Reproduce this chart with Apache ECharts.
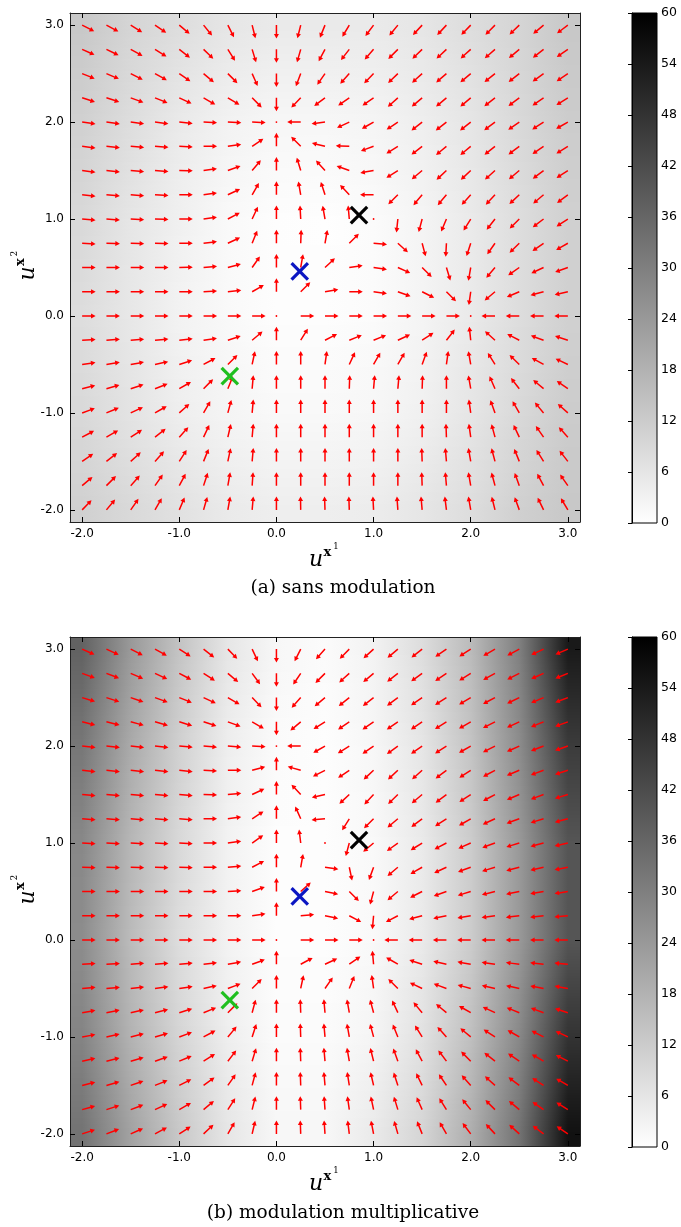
<!DOCTYPE html>
<html><head><meta charset="utf-8">
<script src="https://cdn.jsdelivr.net/npm/echarts@6/dist/echarts.min.js"></script>
<style>html,body{margin:0;padding:0;background:#fff}#c{width:681px;height:1227px}</style>
</head><body><div id="c"></div>
<script>
// ---------------- data ----------------
const gridXs = [-2,-1.75,-1.5,-1.25,-1,-0.75,-0.5,-0.25,0,0.25,0.5,0.75,1,1.25,1.5,1.75,2,2.25,2.5,2.75,3];
const gridYs = [3,2.75,2.5,2.25,2,1.75,1.5,1.25,1,0.75,0.5,0.25,0,-0.25,-0.5,-0.75,-1,-1.25,-1.5,-1.75,-2];
// arrow directions in degrees (0 = +x, 90 = +y); null = zero vector
const anglesA = [
 [-27,-28,-32,-34,-40,-51,-63,-76,-90,-104,-112,-121,-127,-129,-133,-133,-134,-135,-136,-140,-143],
 [-24,-26,-29,-32,-38,-44,-58,-73,-90,-106,-118,-128,-131,-135,-136,-137,-138,-139,-140,-142,-145],
 [-22,-23,-27,-29,-35,-40,-45,-66,-90,-111,-125,-132,-134,-136,-138,-139,-140,-141,-142,-144,-146],
 [-18,-18,-20,-22,-25,-30,-31,-45,-90,-134,-143,-145,-145,-138,-140,-140,-140,-142,-143,-145,-148],
 [-8,-8,-7,-7,-6,-3,-3,-2,null,180,-173,-155,-150,-146,-142,-142,-142,-143,-145,-147,-150],
 [-7,-6,-5,-4,-3,0,8,34,90,135,166,178,-160,-148,-142,-140,-140,-141,-143,-145,-148],
 [-7,-6,-5,-4,-1,8,20,50,90,107,132,160,-170,-148,-140,-137,-137,-138,-140,-143,-147],
 [-6,-5,-4,-3,0,8,25,60,90,100,108,133,180,-135,-130,-130,-132,-133,-137,-140,-143],
 [-5,-4,-3,-2,0,8,28,65,90,93,100,95,null,-96,-105,-113,-122,-128,-135,-143,-147],
 [-3,-2,-2,-1,0,7,25,68,90,88,80,45,-5,-42,-75,-93,-108,-125,-136,-145,-150],
 [0,0,0,0,1,5,15,55,90,80,43,8,-8,-24,-45,-73,-100,-130,-145,-155,-160],
 [0,0,0,0,0,3,6,30,90,45,10,0,-8,-20,-27,-45,-98,-140,-157,-165,-167],
 [0,0,0,0,0,0,0,0,null,0,0,0,0,0,0,0,null,180,180,180,180],
 [3,4,4,5,6,8,18,40,90,58,27,22,22,25,33,52,96,138,153,160,162],
 [8,9,10,12,18,28,45,78,90,90,82,65,60,60,70,82,100,122,136,151,155],
 [14,16,18,21,30,45,68,85,90,90,90,88,85,85,88,90,100,114,128,140,145],
 [20,23,25,30,42,60,75,85,90,90,90,90,90,90,90,90,98,110,120,130,138],
 [28,30,33,38,48,65,77,85,90,90,90,90,90,90,90,92,98,105,115,125,132],
 [35,38,42,48,57,68,78,85,90,90,90,90,90,90,92,95,100,105,112,122,128],
 [40,45,48,55,62,72,80,86,90,90,90,90,90,90,92,95,100,105,110,118,125],
 [46,50,55,60,67,74,80,85,90,91,92,92,93,94,95,97,100,104,110,116,121]
];
const anglesB = [
 [-24,-25,-27,-29,-33,-38,-46,-65,-90,-117,-132,-135,-138,-140,-142,-145,-147,-150,-152,-155,-157],
 [-20,-21,-23,-25,-28,-33,-40,-54,-90,-124,-135,-138,-140,-142,-144,-146,-148,-151,-153,-156,-158],
 [-17,-18,-19,-20,-22,-25,-30,-46,-90,-132,-140,-141,-142,-143,-145,-147,-149,-152,-154,-157,-159],
 [-14,-14,-15,-16,-17,-18,-20,-30,-90,-140,-148,-146,-145,-145,-146,-148,-150,-153,-155,-158,-160],
 [-6,-6,-6,-6,-5,-5,-5,-3,null,180,-150,-148,-145,-144,-145,-147,-150,-153,-156,-159,-161],
 [-6,-6,-6,-6,-6,-3,0,15,90,164,-153,-146,-137,-137,-138,-143,-147,-152,-157,-160,-162],
 [-5,-5,-5,-5,-5,-2,5,25,90,133,-167,-137,-133,-136,-140,-143,-147,-152,-157,-160,-163],
 [-4,-4,-4,-4,-4,0,8,33,90,114,-175,-122,-135,-140,-143,-147,-150,-155,-160,-163,-165],
 [-3,-3,-3,-3,-3,0,8,35,90,97,null,-105,-140,-144,-148,-152,-156,-160,-163,-165,-167],
 [-2,-2,-2,-2,-2,0,5,28,90,80,-8,-78,-110,-140,-150,-155,-160,-163,-165,-167,-169],
 [0,0,0,0,0,0,3,20,90,42,-12,-45,-105,-140,-153,-160,-163,-166,-168,-170,-171],
 [0,0,0,0,0,0,0,8,90,5,-12,-28,-95,-152,-165,-168,-170,-172,-173,-174,-175],
 [0,0,0,0,0,0,0,0,null,0,0,0,null,180,180,180,180,180,180,180,180],
 [3,3,4,4,5,6,10,20,90,28,25,35,95,150,162,167,170,172,173,174,175],
 [5,5,6,7,8,12,20,45,90,78,55,68,98,135,155,160,165,167,168,169,170],
 [10,11,12,14,17,22,45,75,90,92,95,100,105,115,130,140,150,155,158,160,162],
 [10,12,14,16,20,28,50,72,90,92,95,100,105,112,122,132,140,147,150,153,155],
 [12,14,16,19,23,32,52,73,90,92,95,100,104,110,118,127,135,142,146,150,153],
 [14,16,19,22,27,36,55,75,90,92,95,99,103,108,116,124,132,138,143,147,150],
 [16,18,21,25,30,40,57,76,90,92,94,98,102,107,114,122,129,135,140,145,148],
 [18,21,24,28,33,43,60,77,90,92,94,97,101,106,112,120,127,133,138,143,146]
];
// background field values (colour scale 0..60) at coarse nodes
const bgXs = [-2,-1.5,-1,-0.5,0,0.5,1,1.5,2,2.5,3];
const bgYs = [3,2,1,0,-1,-2];
const bgA = [
 [13,10,8,6,5,5,5,6,8,10,13],
 [11,8,5,3,2,2,2.5,4,6,9,12],
 [9,6,3.5,1.5,0.5,0.3,1,2.5,5,8,11],
 [8,5.5,3,1.5,0.5,0.5,1,2.5,5,8,11],
 [9,6.5,4,2.5,1.5,1.5,2,3.5,6,9,12],
 [11,9,7,5,4,4,4.5,6,8,11,13]
];
const bgB = [
 [37,24,14,6,2,1,3,8,16,30,54],
 [32,20,11,4,1,0.5,2,6,14,27,46],
 [28,17,9,3,0.5,0.5,1.5,5,12,24,40],
 [27,16,8,3,0.5,0.5,1.5,5,12,24,40],
 [29,18,10,4,1,1,2.5,7,15,28,48],
 [33,22,13,6,2,2,5,10,19,33,56]
];
const markersA = [[0.24,0.46],[0.85,1.04],[-0.48,-0.62]];
const markersB = [[0.24,0.45],[0.85,1.03],[-0.48,-0.62]];
const axisTickValues = [-2,-1,0,1,2,3];
const cbRange = [0,60];
const cbInterval = 6;

// ---------------- styles / layout ----------------
const MARKER_COLORS = ['#0b16c2','#000000','#1fbf1f'];
const XMIN=-2.125, XMAX=3.125, YMIN=-2.125, YMAX=3.125;
const SANS='DejaVu Sans', SERIF='DejaVu Serif';

function gray(v){const g=Math.round(255*(1-Math.max(0,Math.min(60,v))/60));return 'rgb('+g+','+g+','+g+')';}

function arrowData(angles){
  const d=[];
  angles.forEach((row,j)=>row.forEach((a,i)=>{d.push([gridXs[i],gridYs[j],a===null?0:a,a===null?0:1]);}));
  return d;
}
function bgData(){
  const d=[];
  for(let j=0;j<bgYs.length-1;j++)for(let i=0;i<bgXs.length-1;i++)d.push([bgXs[i],bgYs[j],i,j]);
  return d;
}
function renderArrow(params,api){
  const p=api.coord([api.value(0),api.value(1)]);
  const a=api.value(2), on=api.value(3);
  if(!on) return {type:'circle',shape:{cx:p[0],cy:p[1],r:0.9},style:{fill:'#ff0000'}};
  const r=a*Math.PI/180, ux=Math.cos(r), uy=-Math.sin(r), nx=-uy, ny=ux;
  const L=13.5, hl=4.6, hw=2.5, w=0.75;
  const tx=p[0]+ux*L, ty=p[1]+uy*L, bx=tx-ux*hl, by=ty-uy*hl;
  return {type:'polygon',shape:{points:[
    [p[0]+nx*w,p[1]+ny*w],[bx+nx*w,by+ny*w],[bx+nx*hw,by+ny*hw],[tx,ty],
    [bx-nx*hw,by-ny*hw],[bx-nx*w,by-ny*w],[p[0]-nx*w,p[1]-ny*w]]},
    style:{fill:'#ff0000'}};
}
function makeBgRender(vals){
  return function(params,api){
    const i=api.value(2), j=api.value(3);
    const nx=bgXs.length, ny=bgYs.length;
    const xa=i===0?XMIN:bgXs[i], xb=i===nx-2?XMAX:bgXs[i+1];
    const ya=j===0?YMAX:bgYs[j], yb=j===ny-2?YMIN:bgYs[j+1];
    const pL=api.coord([bgXs[i],0])[0], pR=api.coord([bgXs[i+1],0])[0];
    const X0=Math.round(api.coord([xa,0])[0]), X1=Math.round(api.coord([xb,0])[0]);
    const Y0=Math.round(api.coord([0,ya])[1]), Y1=Math.round(api.coord([0,yb])[1]);
    const ch=[];
    for(let y=Y0;y<Y1;y++){
      const yc=api.coord([0,0])[1]; // reference pixel of y=0
      const pxPerUnit=api.coord([0,0])[1]-api.coord([0,1])[1];
      const yv=(yc-(y+0.5))/pxPerUnit;
      let t=(bgYs[j]-yv)/(bgYs[j]-bgYs[j+1]); t=Math.max(0,Math.min(1,t));
      const vL=vals[j][i]*(1-t)+vals[j+1][i]*t, vR=vals[j][i+1]*(1-t)+vals[j+1][i+1]*t;
      ch.push({type:'rect',shape:{x:X0,y:y,width:X1-X0,height:1},
        style:{fill:{type:'linear',x:pL,y:0,x2:pR,y2:0,global:true,
          colorStops:[{offset:0,color:gray(vL)},{offset:1,color:gray(vR)}]}}});
    }
    return {type:'group',children:ch};
  };
}
function renderMarker(params,api){
  const p=api.coord([api.value(0),api.value(1)]), s=8.2;
  const c=MARKER_COLORS[params.dataIndex];
  return {type:'group',children:[
    {type:'line',shape:{x1:p[0]-s,y1:p[1]-s,x2:p[0]+s,y2:p[1]+s},style:{stroke:c,lineWidth:3.2}},
    {type:'line',shape:{x1:p[0]-s,y1:p[1]+s,x2:p[0]+s,y2:p[1]-s},style:{stroke:c,lineWidth:3.2}}]};
}
function renderCb(params,api){
  const p0=api.coord([0,cbRange[0]]), p1=api.coord([1,cbRange[1]]);
  return {type:'rect',shape:{x:p0[0],y:p1[1],width:p1[0]-p0[0],height:p0[1]-p1[1]},
    style:{fill:{type:'linear',x:0,y:p1[1],x2:0,y2:p0[1],global:true,
      colorStops:[{offset:0,color:gray(cbRange[1])},{offset:1,color:gray(cbRange[0])}]},
      stroke:'#000',lineWidth:1}};
}

const lineStyle={color:'#222',width:1};
function plotX(g,pos,labels){
  return {gridIndex:g,type:'value',min:XMIN,max:XMAX,position:pos,z:10,
    axisLine:{show:true,onZero:false,lineStyle},
    axisTick:{show:true,inside:true,length:5,customValues:axisTickValues,lineStyle:{color:'#000'}},
    axisLabel:{show:labels,customValues:axisTickValues,formatter:v=>v.toFixed(1),margin:6,color:'#000',fontFamily:SANS,fontSize:12},
    splitLine:{show:false}};
}
function plotY(g,pos,labels){
  return {gridIndex:g,type:'value',min:YMIN,max:YMAX,position:pos,z:10,
    axisLine:{show:true,onZero:false,lineStyle},
    axisTick:{show:true,inside:true,length:5,customValues:axisTickValues,lineStyle:{color:'#000'}},
    axisLabel:{show:labels,customValues:axisTickValues,formatter:v=>v.toFixed(1),margin:6,color:'#000',fontFamily:SANS,fontSize:12},
    splitLine:{show:false}};
}
function cbX(g){return {gridIndex:g,type:'value',min:0,max:1,show:false};}
function cbY(g){
  return {gridIndex:g,type:'value',min:cbRange[0],max:cbRange[1],interval:cbInterval,position:'right',z:10,
    axisLine:{show:true,lineStyle:{color:'#000',width:1}},
    axisTick:{show:true,inside:true,length:4,lineStyle:{color:'#000'}},
    axisLabel:{margin:4,color:'#000',fontFamily:SANS,fontSize:12.5},
    splitLine:{show:false}};
}
function axisName(cx,cy,sup,rot){
  return {type:'group',x:cx,y:cy,rotation:rot,children:[
    {type:'text',x:0,y:-1.5,style:{text:'u',fontFamily:SERIF,fontStyle:'italic',fontSize:22,align:'center',verticalAlign:'middle',fill:'#000'}},
    {type:'text',x:11.5,y:-9,style:{text:'x',fontFamily:SERIF,fontWeight:'bold',fontSize:13,align:'center',verticalAlign:'middle',fill:'#000'}},
    {type:'text',x:20,y:-15,style:{text:sup,fontFamily:SERIF,fontSize:8.5,align:'center',verticalAlign:'middle',fill:'#000'}}
  ]};
}
function caption(txt,y){
  return {type:'text',x:343,y:y,style:{text:txt,fontFamily:SERIF,fontSize:18.5,align:'center',verticalAlign:'middle',fill:'#000'}};
}

const chart=echarts.init(document.getElementById('c'),null,{renderer:'canvas'});
chart.setOption({
  animation:false,
  grid:[
    {left:70,top:13,width:510,height:509},
    {left:632,top:13,width:25,height:510},
    {left:70,top:637,width:510,height:509},
    {left:632,top:637,width:25,height:510}
  ],
  xAxis:[plotX(0,'bottom',true),plotX(0,'top',false),cbX(1),plotX(2,'bottom',true),plotX(2,'top',false),cbX(3)],
  yAxis:[plotY(0,'left',true),plotY(0,'right',false),cbY(1),plotY(2,'left',true),plotY(2,'right',false),cbY(3)],
  series:[
    {type:'custom',name:'fondA',xAxisIndex:0,yAxisIndex:0,z:1,silent:true,data:bgData(),renderItem:makeBgRender(bgA)},
    {type:'custom',name:'champA',xAxisIndex:0,yAxisIndex:0,z:3,silent:true,data:arrowData(anglesA),renderItem:renderArrow},
    {type:'custom',name:'pointsA',xAxisIndex:0,yAxisIndex:0,z:4,silent:true,data:markersA,renderItem:renderMarker},
    {type:'custom',name:'barreA',xAxisIndex:2,yAxisIndex:2,z:1,silent:true,data:[[0,0]],renderItem:renderCb},
    {type:'custom',name:'fondB',xAxisIndex:3,yAxisIndex:3,z:1,silent:true,data:bgData(),renderItem:makeBgRender(bgB)},
    {type:'custom',name:'champB',xAxisIndex:3,yAxisIndex:3,z:3,silent:true,data:arrowData(anglesB),renderItem:renderArrow},
    {type:'custom',name:'pointsB',xAxisIndex:3,yAxisIndex:3,z:4,silent:true,data:markersB,renderItem:renderMarker},
    {type:'custom',name:'barreB',xAxisIndex:5,yAxisIndex:5,z:1,silent:true,data:[[0,0]],renderItem:renderCb}
  ],
  graphic:[
    axisName(316,562,'1',0),
    axisName(30,273.5,'2',Math.PI/2),
    caption('(a) sans modulation',588),
    axisName(316,1186,'1',0),
    axisName(30,897.5,'2',Math.PI/2),
    caption('(b) modulation multiplicative',1213)
  ]
});
</script>
</body></html>
